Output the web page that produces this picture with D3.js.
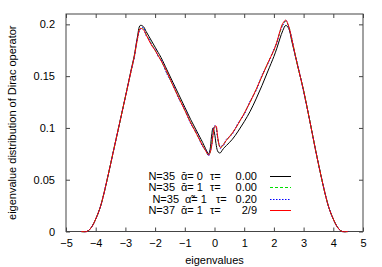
<!DOCTYPE html>
<html>
<head>
<meta charset="utf-8">
<script src="https://cdn.jsdelivr.net/npm/d3@7"></script>
<style>
  body { margin: 0; background: #fff; }
  text { font-family: "Liberation Sans", Arial, sans-serif; font-size: 11px; fill: #000; }
</style>
</head>
<body>
<div id="chart"></div>
<script>
// eigenvalue grid shared by all four runs
var eig = [-4.5, -4.3, -4.2, -4.1, -4.0, -3.9, -3.8, -3.6, -3.4, -3.2, -3.0,
  -2.8, -2.7, -2.6, -2.5, -2.4, -2.3, -2.2, -2.1, -2.0, -1.9,
  -1.8, -1.6, -1.4, -1.2, -1.0, -0.8, -0.6, -0.4, -0.3, -0.2,
  -0.15, -0.1, -0.05, 0, 0.05, 0.1, 0.15, 0.2, 0.25, 0.3,
  0.4, 0.6, 0.8, 1.0, 1.2, 1.4, 1.6, 1.8, 2.0, 2.1,
  2.2, 2.3, 2.4, 2.5, 2.6, 2.7, 2.8, 3.0, 3.2,
  3.4, 3.6, 3.8, 3.9, 4.0, 4.1, 4.2, 4.3, 4.5];

var n35_a0_t000 = [0, 0, 0.002, 0.006, 0.012, 0.019, 0.028, 0.052, 0.078, 0.104, 0.130,
  0.157, 0.170, 0.187, 0.199, 0.198, 0.193, 0.188, 0.183, 0.178, 0.173,
  0.168, 0.156, 0.144, 0.132, 0.120, 0.108, 0.097, 0.086, 0.080, 0.075,
  0.079, 0.092, 0.100, 0.095, 0.085, 0.078, 0.076, 0.076, 0.078, 0.080,
  0.083, 0.089, 0.097, 0.106, 0.116, 0.128, 0.141, 0.155, 0.169, 0.177,
  0.186, 0.194, 0.199, 0.196, 0.184, 0.172, 0.160, 0.136, 0.108,
  0.079, 0.052, 0.028, 0.019, 0.012, 0.006, 0.002, 0, 0];

var n35_a1_t000 = [0, 0, 0.002, 0.006, 0.012, 0.019, 0.028, 0.052, 0.078, 0.104, 0.130,
  0.156, 0.169, 0.185, 0.196, 0.196, 0.190, 0.185, 0.180, 0.175, 0.170,
  0.165, 0.153, 0.141, 0.129, 0.117, 0.105, 0.094, 0.083, 0.078, 0.074,
  0.076, 0.083, 0.094, 0.101, 0.100, 0.092, 0.084, 0.081, 0.082, 0.084,
  0.088, 0.095, 0.104, 0.114, 0.125, 0.137, 0.150, 0.163, 0.175, 0.183,
  0.192, 0.200, 0.203, 0.198, 0.186, 0.173, 0.160, 0.136, 0.108,
  0.079, 0.052, 0.028, 0.019, 0.012, 0.006, 0.002, 0, 0];

var n35_a1_t020 = [0, 0, 0.002, 0.006, 0.012, 0.019, 0.028, 0.052, 0.078, 0.104, 0.130,
  0.156, 0.168, 0.186, 0.195, 0.197, 0.189, 0.186, 0.179, 0.176, 0.169,
  0.166, 0.152, 0.142, 0.128, 0.118, 0.104, 0.095, 0.082, 0.079, 0.073,
  0.077, 0.082, 0.095, 0.102, 0.101, 0.091, 0.085, 0.080, 0.083, 0.083,
  0.089, 0.094, 0.105, 0.113, 0.126, 0.136, 0.151, 0.162, 0.176, 0.182,
  0.193, 0.199, 0.204, 0.197, 0.187, 0.172, 0.161, 0.135, 0.108,
  0.079, 0.052, 0.028, 0.019, 0.012, 0.006, 0.002, 0, 0];

var n37_a1_t29 = [0, 0, 0.002, 0.006, 0.012, 0.019, 0.028, 0.052, 0.078, 0.104, 0.130,
  0.156, 0.169, 0.185, 0.196, 0.195, 0.190, 0.184, 0.179, 0.175, 0.170,
  0.165, 0.154, 0.141, 0.129, 0.117, 0.105, 0.094, 0.083, 0.078, 0.074,
  0.076, 0.082, 0.093, 0.101, 0.102, 0.093, 0.084, 0.081, 0.082, 0.084,
  0.088, 0.095, 0.104, 0.114, 0.125, 0.137, 0.150, 0.163, 0.175, 0.183,
  0.193, 0.201, 0.204, 0.198, 0.186, 0.173, 0.160, 0.136, 0.108,
  0.079, 0.052, 0.028, 0.019, 0.012, 0.006, 0.002, 0, 0];

var x_ticks = [-5, -4, -3, -2, -1, 0, 1, 2, 3, 4, 5];
var y_ticks = [0, 0.05, 0.1, 0.15, 0.2];

// legend pieces: N, alpha part, tau value
var legend_n = ["N=35", "N=35", "N=35", "N=37"];
var legend_alpha = ["\u03b1\u0304= 0", "\u03b1\u0304= 1", "\u03b1\u0303= 1", "\u03b1\u0304= 1"];
var legend_tau = ["0.00", "0.00", "0.20", "2/9"];

var series = [
  {values: n35_a0_t000, color: "#000000", dash: null},
  {values: n35_a1_t000, color: "#00dd00", dash: "3,2"},
  {values: n35_a1_t020, color: "#0000ff", dash: "1.5,1.5"},
  {values: n37_a1_t29, color: "#ff0000", dash: null}
];

var width = 382, height = 267;
var m = {left: 66, right: 363, top: 14, bottom: 231.5};

var svg = d3.select("#chart").append("svg")
  .attr("width", width)
  .attr("height", height);

var x = d3.scaleLinear().domain([-5, 5]).range([m.left, m.right]);
var y = d3.scaleLinear().domain([0, 0.21]).range([m.bottom, m.top]);

function no_domain(g) { g.select(".domain").remove(); g.selectAll("line").attr("stroke", "#444"); }

svg.append("g").attr("transform", "translate(0," + m.bottom + ")")
  .call(d3.axisBottom(x).tickValues(x_ticks).tickSize(-4).tickPadding(8).tickFormat(d3.format("d")))
  .call(no_domain)
  .selectAll("text").style("font-size", "11px").style("font-family", "'Liberation Sans', Arial, sans-serif").attr("fill", "#000");

svg.append("g").attr("transform", "translate(0," + m.top + ")")
  .call(d3.axisTop(x).tickValues(x_ticks).tickSize(-4).tickFormat(""))
  .call(no_domain);

svg.append("g").attr("transform", "translate(" + m.left + ",0)")
  .call(d3.axisLeft(y).tickValues(y_ticks).tickSize(-4).tickPadding(11).tickFormat(function(d) { return String(d); }))
  .call(no_domain)
  .selectAll("text").style("font-size", "11px").style("font-family", "'Liberation Sans', Arial, sans-serif").attr("fill", "#000");

svg.append("g").attr("transform", "translate(" + m.right + ",0)")
  .call(d3.axisRight(y).tickValues(y_ticks).tickSize(-4).tickFormat(""))
  .call(no_domain);

svg.append("rect")
  .attr("x", m.left).attr("y", m.top)
  .attr("width", m.right - m.left).attr("height", m.bottom - m.top)
  .attr("fill", "none").attr("stroke", "#444").attr("stroke-width", 1);

var line = d3.line()
  .x(function(d) { return x(d[0]); })
  .y(function(d) { return y(d[1]); })
  .curve(d3.curveCatmullRom.alpha(0.5));

series.forEach(function(s) {
  svg.append("path")
    .datum(d3.zip(eig, s.values))
    .attr("d", line)
    .attr("fill", "none")
    .attr("stroke", s.color)
    .attr("stroke-width", 1)
    .attr("stroke-dasharray", s.dash);
});

// legend
var leg = svg.append("g");
series.forEach(function(s, i) {
  var yy = 175.5 + i * 11.5;
  var shift = i == 2 ? 4 : 0;
  leg.append("text").attr("x", 175 + shift).attr("y", yy + 4).attr("text-anchor", "end").text(legend_n[i]);
  leg.append("text").attr("x", 181 + shift).attr("y", yy + 4).text(legend_alpha[i]);
  leg.append("text").attr("x", 210 + shift * 1.5).attr("y", yy + 4).text("\u03c4=");
  leg.append("text").attr("x", 257).attr("y", yy + 4).attr("text-anchor", "end").text(legend_tau[i]);
  leg.append("line")
    .attr("x1", 270).attr("x2", 291).attr("y1", Math.round(yy) + 0.5).attr("y2", Math.round(yy) + 0.5)
    .attr("stroke", s.color).attr("stroke-width", 1)
    .attr("stroke-dasharray", s.dash);
});

svg.append("text")
  .attr("x", (m.left + m.right) / 2).attr("y", 264)
  .attr("text-anchor", "middle")
  .text("eigenvalues");

svg.append("text")
  .attr("transform", "translate(16," + ((m.top + m.bottom) / 2) + ") rotate(-90)")
  .attr("text-anchor", "middle")
  .text("eigenvalue distribution of Dirac operator");
</script>
</body>
</html>
